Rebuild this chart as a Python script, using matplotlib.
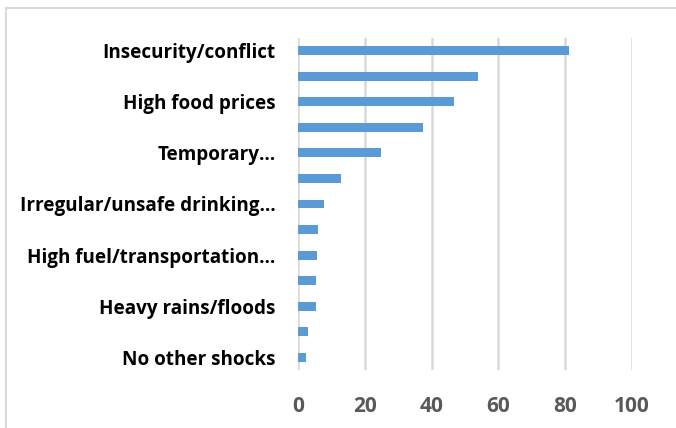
import matplotlib.pyplot as plt
from matplotlib.patches import Rectangle

# shocks, top to bottom (only every other label is shown in the original)
labels = ['Insecurity/conflict', '', 'High food prices', '', 'Temporary\u2026', '',
          'Irregular/unsafe drinking\u2026', '', 'High fuel/transportation\u2026', '',
          'Heavy rains/floods', '', 'No other shocks']
values = [81.1, 53.8, 46.8, 37.5, 24.9, 13.0, 7.9, 5.9, 5.6, 5.4, 5.4, 2.9, 2.4]
xticks = [0, 20, 40, 60, 80, 100]

fig = plt.figure(figsize=(6.76, 4.28), dpi=100)
ax = fig.add_axes([298/676, 58/428, 334/676, 332/428])

pos = list(range(len(values)))
ax.barh(pos, values, height=0.35, color='#5b9bd5', zorder=3)
ax.set_ylim(len(values) - 0.5, -0.5)
ax.set_xlim(0, 100)
ax.set_xticks(xticks)
ax.set_yticks(pos)
ax.set_yticklabels(labels, fontsize=13.6, fontweight='bold', family=['Open Sans', 'DejaVu Sans'])
for t in ax.get_xticklabels():
    t.set_fontsize(15)
    t.set_fontweight('bold')
    t.set_color('#595959')
    t.set_family(['Open Sans', 'DejaVu Sans'])
ax.tick_params(axis='y', length=0, pad=16)
ax.tick_params(axis='x', length=0, pad=19)
ax.grid(axis='x', color='#d9d9d9', lw=1.8, zorder=0)
for s in ax.spines.values():
    s.set_visible(False)

# outer chart border
fig.patches.append(Rectangle((6/676, -0.1), 1.2, 1.1 - 8/428, transform=fig.transFigure,
                             fill=False, edgecolor='#d9d9d9', lw=1.5))

plt.savefig('out.png', dpi=100)
